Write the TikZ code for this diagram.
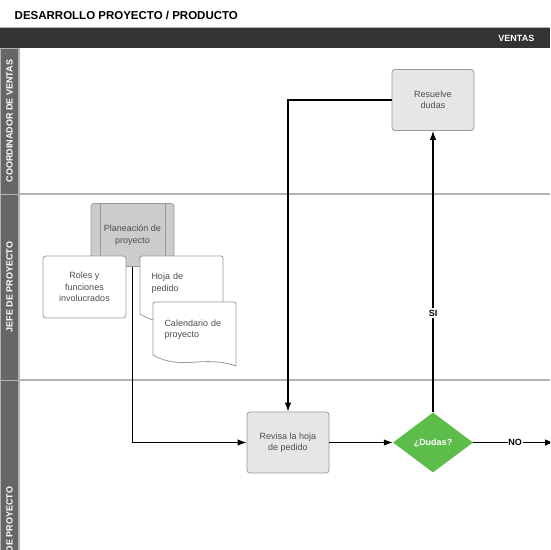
\documentclass[tikz,border=0pt]{standalone}
\usepackage{fontspec}
\setmainfont{Liberation Sans}
\usetikzlibrary{shapes.geometric,arrows.meta}
\definecolor{barc}{HTML}{333333}
\definecolor{lanec}{HTML}{666666}
\definecolor{laneline}{HTML}{B3B3B3}
\definecolor{boxline}{HTML}{999999}
\definecolor{boxfill}{HTML}{E6E6E6}
\definecolor{planfill}{HTML}{CCCCCC}
\definecolor{txtc}{HTML}{4D4D4D}
\definecolor{greenc}{HTML}{5CBD4A}
\tikzset{
  nodefont/.style={font=\fontsize{9}{11.5}\selectfont},
  box/.style={draw=boxline, line width=0.8pt, rounded corners=3pt, minimum width=82pt, minimum height=61pt, inner sep=0pt, align=center, text=txtc, nodefont},
  doctext/.style={inner sep=0pt, align=left, text width=62pt, text=txtc, nodefont},
  docline/.style={draw=boxline, line width=0.8pt, fill=white, rounded corners=2pt},
  lanehead/.style={fill=lanec, draw=laneline, line width=0.6pt},
  lanelabel/.style={rotate=90, text=white, font=\bfseries\fontsize{9}{11}\selectfont, inner sep=0pt},
  conn/.style={line width=1.1pt, black, -{Latex[length=9pt,width=6.5pt]}},
  lbl/.style={fill=white, inner xsep=0.6pt, inner ysep=2pt, text=black, font=\bfseries\fontsize{9}{11}\selectfont},
  decision/.style={diamond, aspect=1.333, minimum width=80pt, minimum height=60pt, inner sep=0pt, fill=greenc, text=white, font=\bfseries\fontsize{9}{11}\selectfont}
}
\newcommand{\docshape}[4]{% x0 y0 w h
  \path[docline] (#1,#2) -- (#1+#3,#2) [sharp corners] -- (#1+#3,#2+#4)
    .. controls (#1+0.6*#3,#2+0.82*#4) and (#1+0.35*#3,#2+1.08*#4) .. (#1,#2+0.83*#4) [rounded corners=2pt] -- cycle;}
\begin{document}
\begin{tikzpicture}[x=1pt,y=-1pt]
\useasboundingbox (0,0) rectangle (550,550);
\clip (0,0) rectangle (550,550);
\fill[white] (0,0) rectangle (550,550);

% title and header bar
\node[anchor=west, inner sep=0pt, font=\bfseries\fontsize{11.5}{13}\selectfont] (title) at (14.5,15) {DESARROLLO PROYECTO / PRODUCTO};
\fill[barc] (0,28) rectangle (550,48);
\draw[laneline, line width=0.8pt] (0,27.6) -- (550,27.6);
\node[anchor=east, inner sep=0pt, text=white, font=\bfseries\fontsize{9}{11}\selectfont] (ventas) at (534.5,38) {VENTAS};

% lanes
\draw[lanehead] (0,48) rectangle (18.5,194);
\draw[lanehead] (0,194) rectangle (18.5,380);
\draw[lanehead] (0,380) rectangle (18.5,700);
\draw[laneline, line width=1pt] (19.5,48) -- (19.5,550);
\draw[laneline, line width=1.5pt] (18.5,194) -- (550,194);
\draw[laneline, line width=1.5pt] (18.5,380) -- (550,380);
\node[lanelabel] (l1) at (9.5,121) {COORDINADOR DE VENTAS};
\node[lanelabel] (l2) at (9.5,287) {JEFE DE PROYECTO};
\node[lanelabel] (l3) at (9.5,532) {JEFE DE PROYECTO};

% Planeacion de proyecto
\node[box, fill=planfill, minimum width=83pt, minimum height=63pt] (plan) at (132.5,235) {Planeación de\\proyecto};
\draw[boxline, line width=0.8pt] (100,204) -- (100,266) (165.5,204) -- (165.5,266);

% Roles
\node[box, fill=white, minimum width=83pt, minimum height=62pt] (roles) at (84.5,287) {Roles y\\funciones\\involucrados};

% Hoja de pedido (document)
\docshape{140}{256}{83}{70}
\node[doctext] (hoja) at (182.5,283) {Hoja de\\pedido};

% Calendario de proyecto (document)
\docshape{153}{302}{83}{64}
\node[doctext] (cal) at (195.5,329.5) {Calendario de\\proyecto};

% process boxes
\node[box, fill=boxfill] (rev) at (288,442.5) {Revisa la hoja\\de pedido};
\node[box, fill=boxfill] (res) at (433,100) {Resuelve\\dudas};
\node[decision] (dud) at (433,442.5) {¿Dudas?};
\coordinate (out) at (554,442.5);

% connectors
\draw[conn] (plan.south) |- (rev.west);
\draw[conn] (rev.east) -- (dud.west);
\draw[conn] (dud.north) -- node[lbl, pos=0.352] (si) {SI} (res.south);
\draw[conn] (res.west) -| (rev.north);
\draw[conn] (dud.east) -- node[lbl, pos=0.52] (no) {NO} (out);
\end{tikzpicture}
\end{document}
